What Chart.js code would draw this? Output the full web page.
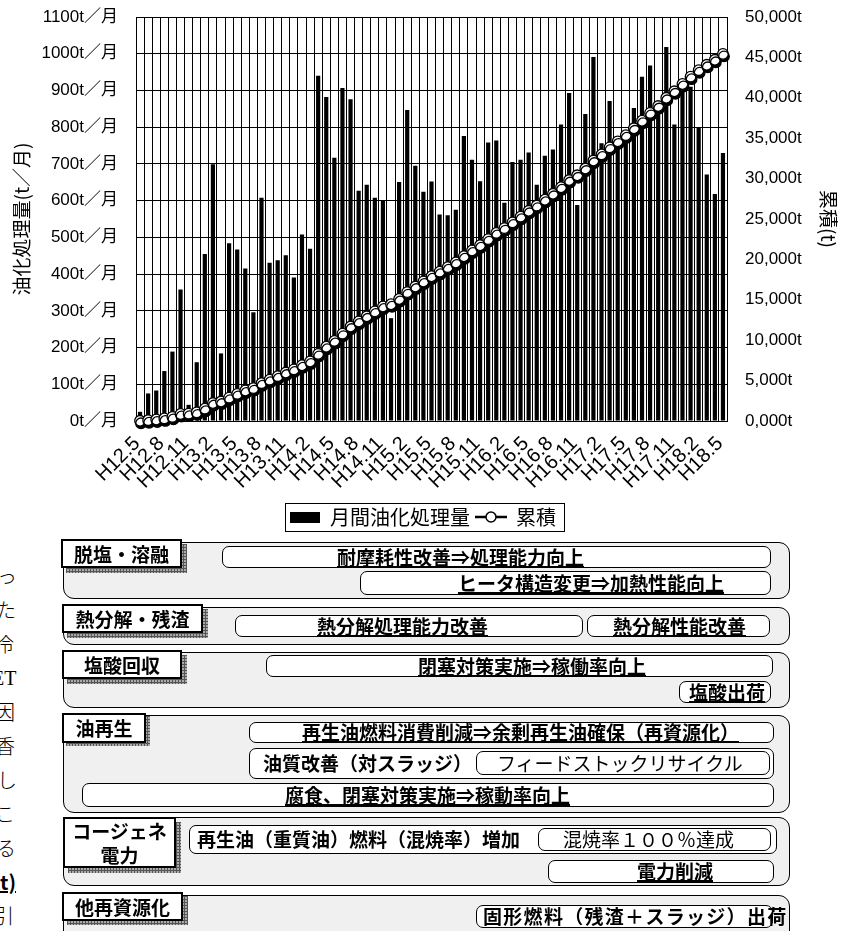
<!DOCTYPE html>
<html><head><meta charset="utf-8">
<script src="https://cdn.jsdelivr.net/npm/chart.js@4/dist/chart.umd.min.js"></script>
<style>
body{margin:0;background:#fff;width:846px;height:931px;overflow:hidden;position:relative;font-family:'Noto Sans CJK JP','Liberation Sans',sans-serif;color:#000;}
#cv{position:absolute;left:0;top:0;}
.grp{position:absolute;left:63px;width:727px;background:#f0f0f0;border:1.5px solid #000;border-radius:11px;box-sizing:border-box;}
.sh{position:absolute;background-color:#aaa;background-image:linear-gradient(90deg,#555 1px,transparent 1px),linear-gradient(#555 1px,transparent 1px);background-size:3px 3px;}
.lab{position:absolute;background:#fff;border:2px solid #000;box-sizing:border-box;font-weight:bold;font-size:19px;display:flex;align-items:center;justify-content:center;text-align:center;line-height:24px;}
.pill{position:absolute;background:#fff;border:1.5px solid #000;border-radius:7px;box-sizing:border-box;}
.tx{position:absolute;font-size:19px;font-weight:bold;white-space:nowrap;line-height:20px;height:20px;}
.u{text-decoration:underline;text-underline-offset:1px;text-decoration-thickness:1.5px;}
.n{font-weight:normal;}
.frag{position:absolute;left:0;top:559px;font-size:20px;line-height:34px;font-weight:300;}
.frag div{position:relative;height:34px;white-space:nowrap;}
</style></head>
<body>
<canvas id="cv" width="846" height="545"></canvas>

<div class="frag">
<div style="left:-3px">っ</div>
<div style="left:-4px">た</div>
<div style="left:-6px">冷</div>
<div style="left:-8px;font-family:'Liberation Serif',serif">ET</div>
<div style="left:-5px">因</div>
<div style="left:-5px">香</div>
<div style="left:-3px">し</div>
<div style="left:-5px">こ</div>
<div style="left:-4px">る</div>
<div style="left:0px;font-weight:bold;text-decoration:underline;text-decoration-thickness:2px">t)</div>
<div style="left:-6px">引</div>
</div>

<!-- groups -->
<div class="grp" style="top:542px;height:57px"></div>
<div class="grp" style="top:607px;height:38px"></div>
<div class="grp" style="top:652px;height:56px"></div>
<div class="grp" style="top:715px;height:98px"></div>
<div class="grp" style="top:817px;height:69px"></div>
<div class="grp" style="top:895px;height:80px"></div>

<!-- label boxes -->
<div class="sh" style="left:66px;top:544px;width:121px;height:29px"></div>
<div class="lab" style="left:61px;top:539px;width:121px;height:29px">脱塩・溶融</div>
<div class="sh" style="left:67px;top:609px;width:141px;height:29px"></div>
<div class="lab" style="left:62px;top:604px;width:141px;height:29px">熱分解・残渣</div>
<div class="sh" style="left:67px;top:655px;width:120px;height:29px"></div>
<div class="lab" style="left:62px;top:650px;width:120px;height:29px">塩酸回収</div>
<div class="sh" style="left:66px;top:716px;width:84px;height:30px"></div>
<div class="lab" style="left:62px;top:713px;width:84px;height:30px">油再生</div>
<div class="sh" style="left:68px;top:822px;width:113px;height:51px"></div>
<div class="lab" style="left:63px;top:817px;width:113px;height:51px">コージェネ<br>電力</div>
<div class="sh" style="left:67px;top:896px;width:121px;height:29px"></div>
<div class="lab" style="left:62px;top:892px;width:121px;height:29px">他再資源化</div>

<!-- pills -->
<div class="pill" style="left:222px;top:546px;width:549px;height:22px"></div>
<div class="tx u" style="left:337px;top:547px">耐摩耗性改善⇒処理能力向上</div>
<div class="pill" style="left:360px;top:571px;width:411px;height:24px"></div>
<div class="tx u" style="left:458px;top:573px">ヒータ構造変更⇒加熱性能向上</div>
<div class="pill" style="left:235px;top:615px;width:348px;height:22px"></div>
<div class="tx u" style="left:317px;top:616px">熱分解処理能力改善</div>
<div class="pill" style="left:587px;top:615px;width:183px;height:22px"></div>
<div class="tx u" style="left:613px;top:616px">熱分解性能改善</div>
<div class="pill" style="left:266px;top:655px;width:507px;height:22px"></div>
<div class="tx u" style="left:418px;top:656px">閉塞対策実施⇒稼働率向上</div>
<div class="pill" style="left:679px;top:681px;width:92px;height:22px"></div>
<div class="tx u" style="left:689px;top:682px">塩酸出荷</div>
<div class="pill" style="left:249px;top:722px;width:525px;height:21px"></div>
<div class="tx u" style="left:302px;top:722px">再生油燃料消費削減⇒余剰再生油確保（再資源化）</div>
<div class="pill" style="left:249px;top:748px;width:525px;height:31px"></div>
<div class="tx" style="left:263px;top:753px">油質改善（対スラッジ）</div>
<div class="pill" style="left:476px;top:751px;width:294px;height:24px"></div>
<div class="tx n" style="left:497px;top:753px">フィードストックリサイクル</div>
<div class="pill" style="left:82px;top:783px;width:692px;height:24px"></div>
<div class="tx u" style="left:285px;top:785px">腐食、閉塞対策実施⇒稼動率向上</div>
<div class="pill" style="left:189px;top:825px;width:588px;height:29px"></div>
<div class="tx" style="left:197px;top:829px">再生油（重質油）燃料（混焼率）増加</div>
<div class="pill" style="left:538px;top:828px;width:233px;height:23px"></div>
<div class="tx n" style="left:563px;top:829px">混焼率１００％達成</div>
<div class="pill" style="left:548px;top:860px;width:226px;height:23px"></div>
<div class="tx u" style="left:637px;top:861px">電力削減</div>
<div class="pill" style="left:476px;top:905px;width:297px;height:23px"></div>
<div class="tx" style="left:483px;top:906px;letter-spacing:1.3px">固形燃料（残渣＋スラッジ）出荷</div>

<script>
const months = ["H12.5","H12.6","H12.7","H12.8","H12.9","H12.10","H12.11","H12.12",
"H13.1","H13.2","H13.3","H13.4","H13.5","H13.6","H13.7","H13.8","H13.9","H13.10","H13.11","H13.12",
"H14.1","H14.2","H14.3","H14.4","H14.5","H14.6","H14.7","H14.8","H14.9","H14.10","H14.11","H14.12",
"H15.1","H15.2","H15.3","H15.4","H15.5","H15.6","H15.7","H15.8","H15.9","H15.10","H15.11","H15.12",
"H16.1","H16.2","H16.3","H16.4","H16.5","H16.6","H16.7","H16.8","H16.9","H16.10","H16.11","H16.12",
"H17.1","H17.2","H17.3","H17.4","H17.5","H17.6","H17.7","H17.8","H17.9","H17.10","H17.11","H17.12",
"H18.1","H18.2","H18.3","H18.4","H18.5"];

const monthly = [25,75,83,136,189,358,44,160,455,699,184,484,467,415,296,608,431,438,451,391,
508,469,940,882,717,907,876,627,643,608,602,280,651,847,695,624,652,562,560,575,
776,711,653,758,764,594,705,711,731,643,722,739,807,893,588,836,991,756,871,750,
760,852,937,968,850,1018,807,900,910,800,671,618,730];

const cumulative = [25,100,183,319,508,866,910,1070,1525,2224,2408,2892,3359,3774,4070,4678,5109,5547,5998,6389,
6897,7366,8306,9188,9905,10812,11688,12315,12958,13566,14168,14448,15099,15946,16641,17265,17917,18479,19039,19614,
20390,21101,21754,22512,23276,23870,24575,25286,26017,26660,27382,28121,28928,29821,30409,31245,32236,32992,33863,34613,
35373,36225,37162,38130,38980,39998,40805,41705,42615,43415,44086,44704,45434];

const leftTicksMax = 1100, leftStep = 100;
const rightTicksMax = 50000, rightStep = 5000;
const seriesNames = ["月間油化処理量","累積"];

Chart.defaults.font.family = "'Liberation Sans','Noto Sans CJK JP',sans-serif";
Chart.defaults.color = '#000';

function legendBar(){const c=document.createElement('canvas');c.width=30;c.height=11;const g=c.getContext('2d');g.fillStyle='#000';g.fillRect(0,0,30,11);return c;}
function legendLine(){const c=document.createElement('canvas');c.width=32;c.height=14;const g=c.getContext('2d');g.strokeStyle='#000';g.lineWidth=2.5;g.beginPath();g.moveTo(0,7);g.lineTo(32,7);g.stroke();g.beginPath();g.arc(16,7,5,0,2*Math.PI);g.fillStyle='#fff';g.fill();g.lineWidth=1.5;g.stroke();return c;}
const imgBar = legendBar(), imgLine = legendLine();

const shadowPlugin = {
  id:'shadowLine',
  beforeDatasetDraw(chart,args){ if(args.index===1){const c=chart.ctx;c.save();c.shadowColor='#000';c.shadowOffsetX=1;c.shadowOffsetY=2.5;c.shadowBlur=0;} },
  afterDatasetDraw(chart,args){ if(args.index===1){chart.ctx.restore();} }
};
const legendBox = {
  id:'legendBox',
  afterDraw(chart){
    const hb = chart.legend.legendHitBoxes; if(!hb||!hb.length) return;
    const l = hb[0].left - 5, r = hb[hb.length-1].left + hb[hb.length-1].width + 8;
    const t = hb[0].top - 4, h = hb[0].height + 8;
    const c = chart.ctx; c.save(); c.strokeStyle='#000'; c.lineWidth=1; c.strokeRect(Math.round(l)+0.5, Math.round(t)+0.5, Math.round(r-l), Math.round(h)); c.restore();
  }
};

function fmtRight(v){ const th = Math.floor(v/1000), rest = v%1000; return th + ',' + String(rest).padStart(3,'0') + 't'; }

new Chart(document.getElementById('cv'), {
  data:{
    labels: months,
    datasets:[
      {type:'bar', label:seriesNames[0], data:monthly, backgroundColor:'#000', borderWidth:0, yAxisID:'y', barPercentage:0.52, categoryPercentage:1.0, order:2},
      {type:'line', label:seriesNames[1], data:cumulative, yAxisID:'y2', borderColor:'#000', borderWidth:2, pointRadius:5.3, pointBackgroundColor:'#fff', pointBorderColor:'#000', pointBorderWidth:1.3, tension:0, clip:false, order:1}
    ]
  },
  options:{
    responsive:false, animation:false, events:[],
    layout:{padding:{top:17,bottom:8,left:0,right:0}},
    plugins:{
      tooltip:{enabled:false},
      legend:{position:'bottom', labels:{usePointStyle:true, pointStyleWidth:30, padding:6, color:'#000', font:{size:20, family:"'Noto Sans CJK JP',sans-serif"},
        generateLabels(){ return [
          {text:seriesNames[0], pointStyle:imgBar, fillStyle:'#000', strokeStyle:'#000', lineWidth:0, hidden:false, datasetIndex:0, fontColor:'#000'},
          {text:seriesNames[1], pointStyle:imgLine, fillStyle:'#fff', strokeStyle:'#000', lineWidth:0, hidden:false, datasetIndex:1, fontColor:'#000'}
        ];}
      }}
    },
    scales:{
      x:{
        offset:true,
        grid:{color:'#000', lineWidth:1, drawTicks:false, offset:true},
        border:{color:'#000', width:1},
        ticks:{autoSkip:false, minRotation:45, maxRotation:45, padding:11, labelOffset:-3, color:'#000', font:{size:20},
          callback(v,i){ return i%3===0 ? months[i] : ''; }},
        afterFit(s){ s.height = 80; }
      },
      y:{
        position:'left', min:0, max:leftTicksMax,
        grid:{color:'#000', lineWidth:1, drawTicks:false},
        border:{color:'#000', width:1},
        ticks:{stepSize:leftStep, padding:18, color:'#000', font:{size:17}, callback(v){ return v + 't／月'; }},
        title:{display:true, text:'油化処理量(t／月)', color:'#000', font:{size:19, family:"'Noto Sans CJK JP',sans-serif"}, padding:{top:10,bottom:0}},
        afterFit(s){ s.width = 136; s.paddingTop = 0; }
      },
      y2:{
        position:'right', min:0, max:rightTicksMax,
        grid:{drawOnChartArea:false, drawTicks:false},
        border:{color:'#000', width:1},
        ticks:{stepSize:rightStep, padding:18, color:'#000', font:{size:17}, callback(v){ return fmtRight(v); }},
        title:{display:true, text:'累積(t)', color:'#000', font:{size:19, family:"'Noto Sans CJK JP',sans-serif"}, padding:{top:6,bottom:0}},
        afterFit(s){ s.width = 119; s.paddingTop = 0; }
      }
    }
  },
  plugins:[shadowPlugin, legendBox]
});
</script>
</body></html>
